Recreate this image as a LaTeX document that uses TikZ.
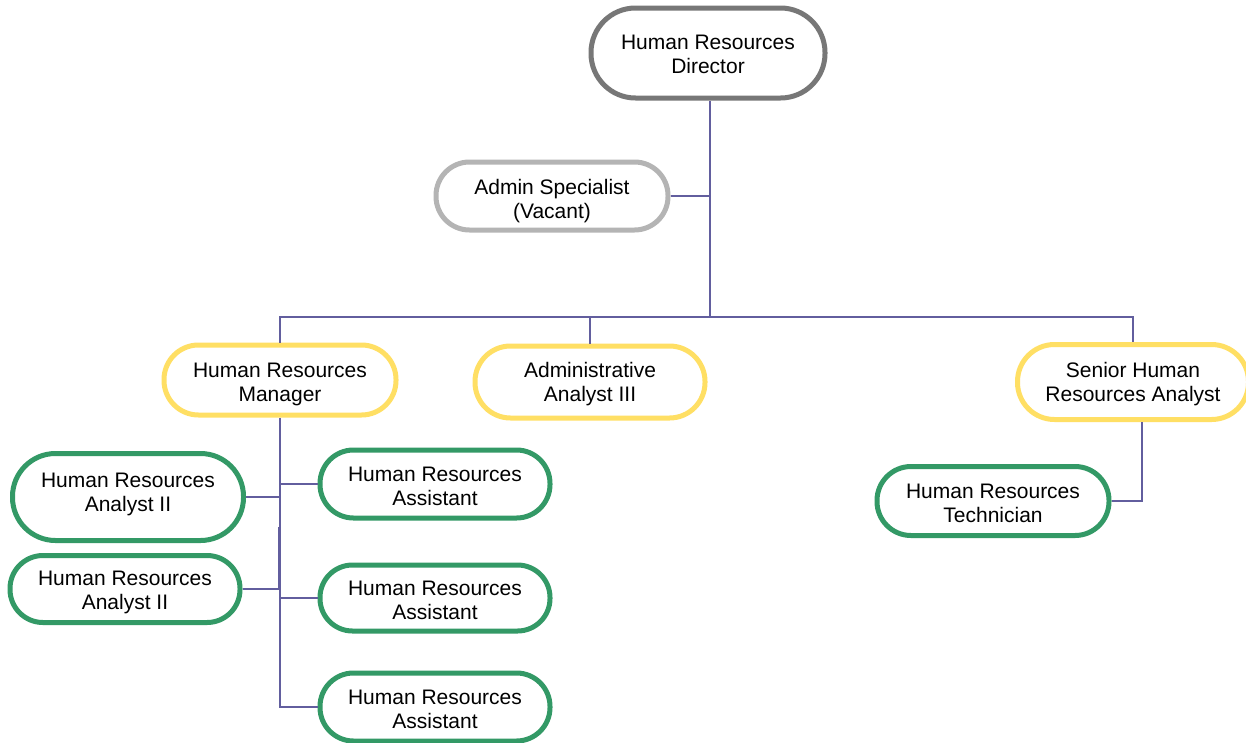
\documentclass[tikz,border=0pt]{standalone}
\usepackage{fontspec}
\setmainfont{Liberation Sans}
\definecolor{dirgray}{RGB}{119,119,119}
\definecolor{vacgray}{RGB}{180,180,180}
\definecolor{ylw}{RGB}{255,223,100}
\definecolor{grn}{RGB}{51,153,102}
\definecolor{conncol}{RGB}{98,94,158}
\newcommand\pilltext[2]{\parbox[c][60pt][c]{200pt}{\centering\vspace*{#1pt}#2}}
\tikzset{
  pill/.style n args={2}{draw, line width=5, fill=white, rectangle,
    minimum width=#1, minimum height=#2, rounded corners={#2/2-0.5},
    inner sep=0, align=center, font=\fontsize{21}{24}\selectfont},
  dirbox/.style={draw=dirgray},
  vacbox/.style={draw=vacgray},
  mgrbox/.style={draw=ylw},
  staffbox/.style={draw=grn},
  conn/.style={draw=conncol, line width=2}
}
\begin{document}
\begin{tikzpicture}[x=1pt,y=-1pt]
\useasboundingbox (0,0) rectangle (1246,742);
\fill[white] (0,0) rectangle (1246,742);
\coordinate (busL) at (281,317);
\coordinate (k) at (279,527);
\node[pill={234}{90}, dirbox] (dir) at (708,53) {\pilltext{2}{Human Resources\\Director}};
\node[pill={232}{68}, vacbox] (admin) at (552,196) {\pilltext{10}{Admin Specialist\\(Vacant)}};
\node[pill={232}{70}, mgrbox] (mgr) at (280,380) {\pilltext{8}{Human Resources\\Manager}};
\node[pill={230}{72}, mgrbox] (aa3) at (590,382) {\pilltext{5}{Administrative\\Analyst III}};
\node[pill={231}{75}, mgrbox] (sen) at (1133,382) {\pilltext{5}{Senior Human\\Resources Analyst}};
\node[pill={232}{69}, staffbox] (tech) at (993,501) {\pilltext{5}{Human Resources\\Technician}};
\node[pill={231}{87}, staffbox] (an1) at (128,497) {\pilltext{-6}{Human Resources\\Analyst II}};
\node[pill={230}{67}, staffbox] (an2) at (125,589) {\pilltext{6}{Human Resources\\Analyst II}};
\node[pill={230}{68}, staffbox] (as1) at (435,484) {\pilltext{4}{Human Resources\\Assistant}};
\node[pill={230}{66}, staffbox] (as2) at (435,598) {\pilltext{4}{Human Resources\\Assistant}};
\node[pill={230}{68}, staffbox] (as3) at (435,707) {\pilltext{4}{Human Resources\\Assistant}};
\coordinate (dtop) at ([xshift=2]dir.south);
\coordinate (stop) at ([xshift=9]sen.south);
% connectors
\draw[conn] (dtop) -- (dtop |- busL);
\draw[conn] (admin.east) -- (admin.east -| dtop);
\draw[conn] (mgr.north) -- (mgr.north |- busL) -- (sen.north |- busL) -- (sen.north);
\draw[conn] (aa3.north) -- (aa3.north |- busL);
\draw[conn] (stop) |- (tech.east);
\draw[conn] (mgr.south) -- (mgr.south |- as3.west) -- (as3.west);
\draw[conn] (mgr.south |- as1.west) -- (as1.west);
\draw[conn] (mgr.south |- as2.west) -- (as2.west);
\draw[conn] (an1.east) -- (an1.east -| mgr.south);
\draw[conn] (an2.east) -| (k);
\end{tikzpicture}
\end{document}
